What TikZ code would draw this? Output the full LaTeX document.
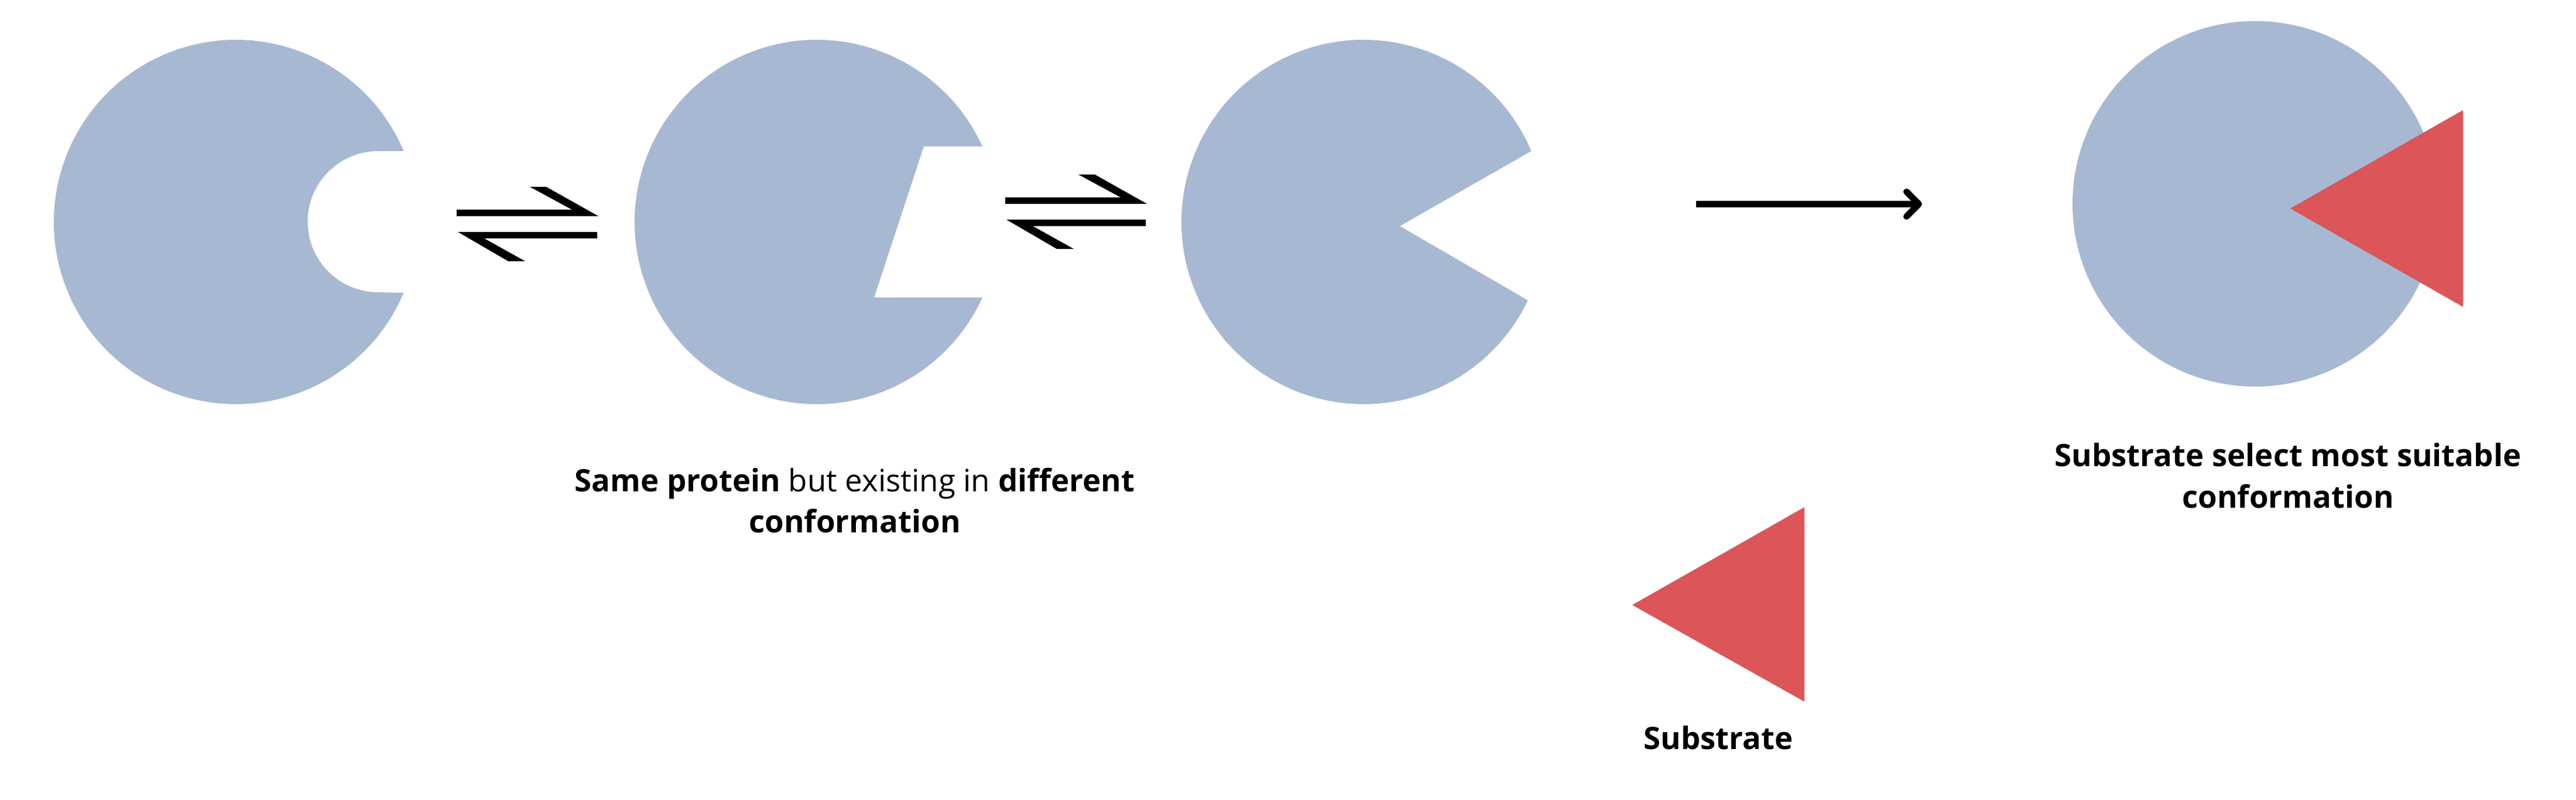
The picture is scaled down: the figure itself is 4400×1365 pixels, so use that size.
\documentclass[tikz,border=0pt]{standalone}
\usepackage{fontspec}
\setmainfont{Open Sans}
\usetikzlibrary{arrows.meta}
\definecolor{enzymeblue}{HTML}{A7B8D2}
\definecolor{ligandred}{HTML}{DC5558}

\begin{document}
\begin{tikzpicture}[x=0.01cm,y=0.01cm,
  enzyme/.style={fill=enzymeblue},
  ligand/.style={fill=ligandred},
  textlabel/.style={font=\fontsize{15}{20}\selectfont,align=center,inner sep=0pt,anchor=north},
  react/.style={line width=3.1pt,-{Straight Barb[round,length=6pt,width=12pt]}}]
  \useasboundingbox (0,0) rectangle (4400,1365);
  % three conformations of the same protein
  \fill[enzyme] (403,986) ++(22.9:311) arc[start angle=22.9,end angle=337.1,radius=311]
     -- (646,866) arc[start angle=-90,end angle=-270,radius=120.5] -- cycle;
  \fill[enzyme] (1395,986) ++(24.5:311) arc[start angle=24.5,end angle=335.5,radius=311]
     -- (1493,857) -- (1578,1115) -- cycle;
  \fill[enzyme] (2329,986) ++(22.9:311) arc[start angle=22.9,end angle=334.5,radius=311]
     -- (2391,979) -- cycle;
  % equilibrium arrows
  \foreach \dx/\dy in {0/0,937/21}{
    \fill[shift={(\dx,\dy)}] (780,1007) -- (977,1007) -- (905,1046) -- (933,1046) -- (1022,996) -- (780,996) -- cycle;
    \fill[shift={(\dx,\dy)}] (1020,969) -- (782,969) -- (868,919) -- (897,919) -- (827,958) -- (1020,958) -- cycle;
  }
  % substrate
  \fill[ligand] (2788,332) -- (3082,499) -- (3082,167) -- cycle;
  % binding
  \coordinate (bindstart) at (2897,1016.5);
  \coordinate (bindend) at (3283,1016.5);
  \draw[react] (bindstart) -- (bindend);
  \fill[enzyme] (3852,1017) circle[radius=312];
  \fill[ligand] (3912,1009) -- (4207,1177) -- (4207,841) -- cycle;
  % labels
  \node[textlabel] (conflabel) at (1460,567) {\textbf{Same protein} but existing in \textbf{different}\\\textbf{conformation}};
  \node[textlabel] (sublabel) at (2935,126) {\textbf{Substrate}};
  \node[textlabel] (selectlabel) at (3908,609) {\textbf{Substrate select most suitable}\\\textbf{conformation}};
\end{tikzpicture}
\end{document}
